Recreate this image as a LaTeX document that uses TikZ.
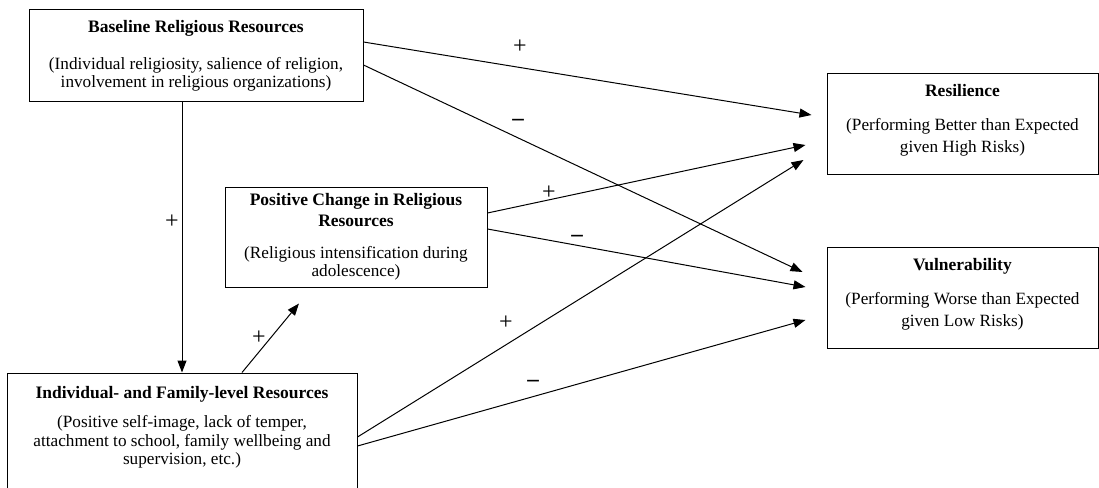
\documentclass[tikz,border=0pt]{standalone}
\usepackage{fontspec}
\setmainfont{Liberation Serif}
\usetikzlibrary{arrows.meta,calc}
\newcommand\boxtitle[1]{{\fontsize{17.5}{17}\selectfont\bfseries #1}}
\begin{document}
\begin{tikzpicture}[x=1pt,y=-1pt,
  box/.style={draw, line width=1pt, align=center, inner sep=0pt,
    font=\fontsize{17.2}{17.5}\selectfont},
  arr/.style={line width=1pt, -{Triangle[length=12pt,width=9pt]}},
  plus/.style={inner sep=0pt, font=\fontsize{24}{24}\selectfont},
  minus/.style={inner sep=0pt, font=\fontsize{23}{23}\selectfont\bfseries}]
\useasboundingbox (0,0) rectangle (1099,487);
\clip (0,0) rectangle (1099,487);

\node[box, minimum width=334pt, minimum height=91pt] (base) at (196,55.5)
  {\boxtitle{Baseline Religious Resources}\\[20pt]
   (Individual religiosity, salience of religion,\\
   involvement in religious organizations)};

\node[box, minimum width=262pt, minimum height=100pt] (change) at (356,237)
  {\boxtitle{Positive Change in Religious}\\[3pt]
   \boxtitle{Resources}\\[15pt]
   (Religious intensification during\\[0.5pt]
   adolescence)};

\node[box, minimum width=350pt, minimum height=126pt] (indiv) at (182,436)
  {\boxtitle{Individual- and Family-level Resources}\\[12pt]
   (Positive self-image, lack of temper,\\[1pt]
   attachment to school, family wellbeing and\\[1pt]
   supervision, etc.)\\[4pt]\mbox{}};

\node[box, minimum width=271pt, minimum height=101pt] (res) at (962.5,123.5)
  {\boxtitle{Resilience}\\[17pt]
   (Performing Better than Expected\\[4.5pt]
   given High Risks)\\[-7pt]\mbox{}};

\node[box, minimum width=271pt, minimum height=101pt] (vul) at (962.5,297.5)
  {\boxtitle{Vulnerability}\\[17pt]
   (Performing Worse than Expected\\[4.5pt]
   given Low Risks)\\[-7pt]\mbox{}};

% connectors
\draw[arr] ([yshift=13.5pt]base.east) -- ([xshift=-15pt,yshift=8.5pt]res.west);
\draw[arr] ([yshift=-9.5pt]base.east) -- ([xshift=-24pt,yshift=25.5pt]vul.west);
\draw[arr] ([yshift=24pt]change.east) -- ([xshift=-21pt,yshift=-21.5pt]res.west);
\draw[arr] ([yshift=8pt]change.east) -- ([xshift=-21pt,yshift=10.5pt]vul.west);
\draw[arr] ([yshift=-1pt]indiv.east) -- ([xshift=-23pt,yshift=-36.5pt]res.west);
\draw[arr] ([yshift=-10pt]indiv.east) -- ([xshift=-21pt,yshift=-22.5pt]vul.west);
\draw[arr] ([xshift=60pt]indiv.north) -- ([xshift=-57pt,yshift=-16pt]change.south);
\draw[arr] (base.south -| indiv.north) -- (indiv.north);

% signs
\node[plus] (s1) at (520,47) {+};
\node[minus] (s2) at (518,122) {--};
\node[plus] (s3) at (549,193) {+};
\node[minus] (s4) at (577,238) {--};
\node[plus] (s5) at (506,323) {+};
\node[minus] (s6) at (533,383) {--};
\node[plus] (s7) at (259,338) {+};
\node[plus] (s8) at (172,222) {+};
\end{tikzpicture}
\end{document}
